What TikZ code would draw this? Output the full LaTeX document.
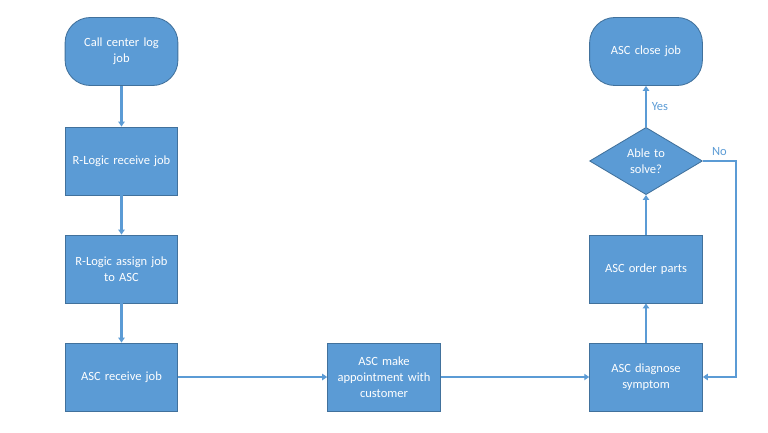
\documentclass[tikz,border=0pt]{standalone}
\usepackage{fontspec}
\setmainfont{Carlito}
\usetikzlibrary{shapes.geometric,arrows.meta}
\definecolor{flowblue}{HTML}{5B9BD5}
\definecolor{flowedge}{HTML}{41719C}
\begin{document}
\begin{tikzpicture}[x=0.025cm, y=-0.025cm,
        box/.style={draw=flowedge, fill=flowblue, line width=0.6pt,
                    minimum width=2.82cm, minimum height=1.7cm, text width=2.7cm,
                    align=center, text=white, inner sep=1pt,
                    font=\fontsize{8.9}{11.2}\selectfont},
        term/.style={box, rounded corners=18pt},
        decision/.style={box, diamond, aspect=1.7, text width=1.2cm, inner sep=0pt,
                    minimum height=1.68cm},
        arr/.style={-{Triangle[width=4.5pt,length=3.5pt]}, line width=1.5pt, draw=flowblue},
        lbl/.style={text=flowblue, font=\fontsize{8.9}{11.2}\selectfont},
    ]
        \useasboundingbox (0,0) rectangle (768,433);

        % left column
        \node[term] (call-log) at (121.5, 51.5) {Call center log\\job};
        \node[box] (rl-receive) at (121.5, 161) {R-Logic receive job};
        \node[box] (rl-assign) at (121.5, 269) {R-Logic assign job\\to ASC};
        \node[box] (asc-receive) at (121.5, 377) {ASC receive job};

        % bottom row
        \node[box] (asc-appt) at (384, 377) {ASC make\\appointment with\\customer};
        \node[box] (asc-diag) at (646, 377) {ASC diagnose\\symptom};

        % right column
        \node[box] (asc-parts) at (646, 269) {ASC order parts};
        \node[decision] (able) at (646, 161) {Able to\\solve?};
        \node[term] (asc-close) at (646, 51.5) {ASC close job};

        \draw[arr] (call-log) -- (rl-receive);
        \draw[arr] (rl-receive) -- (rl-assign);
        \draw[arr] (rl-assign) -- (asc-receive);
        \draw[arr] (asc-receive) -- (asc-appt);
        \draw[arr] (asc-appt) -- (asc-diag);
        \draw[arr] (asc-diag) -- (asc-parts);
        \draw[arr] (asc-parts) -- (able);
        \draw[arr] (able) -- node[lbl, right] {Yes} (asc-close);
        \draw[arr] (able.east) -- node[lbl, above] {No} ++(33,0) |- (asc-diag.east);
    \end{tikzpicture}
\end{document}
